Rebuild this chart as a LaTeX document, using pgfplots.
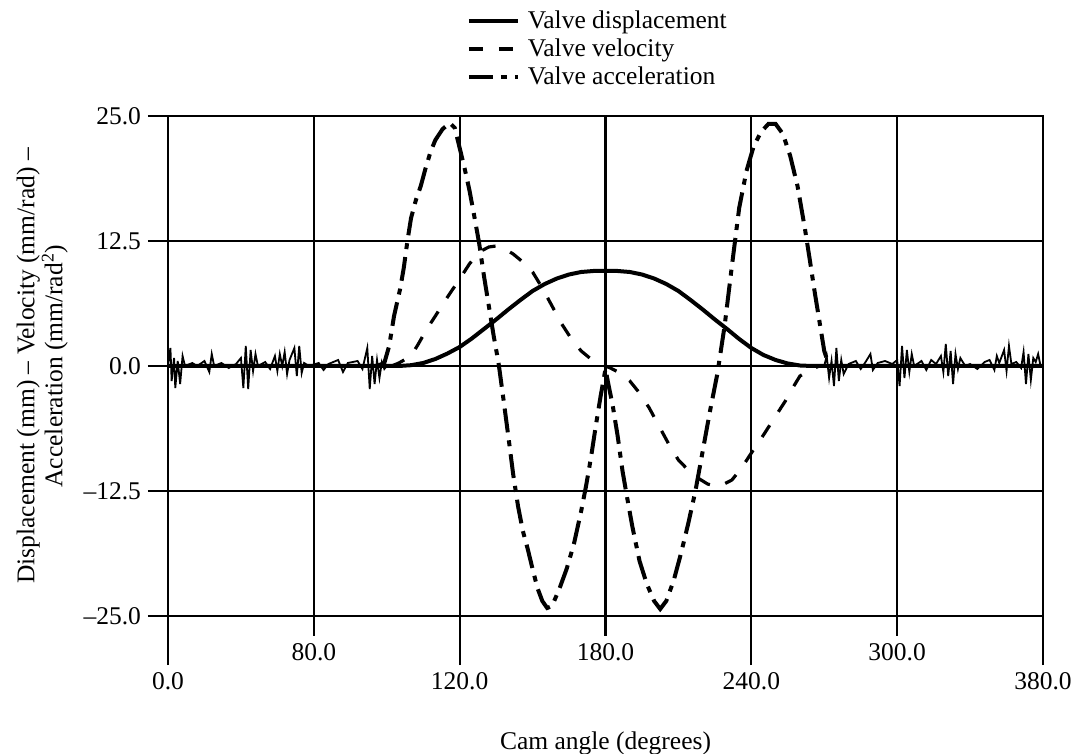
\documentclass[border=0pt]{standalone}
\usepackage{fontspec}
\setmainfont{Liberation Serif}
\usepackage{pgfplots}
\pgfplotsset{compat=1.18}
\begin{document}
\begin{tikzpicture}[font=\fontsize{12.75pt}{14pt}\selectfont]
\begin{axis}[
  scale only axis, width=437.5pt, height=250pt,
  xmin=0, xmax=360, ymin=-25, ymax=25,
  axis line style={line width=1.3pt},
  grid=major, grid style={black, line width=1.3pt},
  tick style={black, line width=1.3pt},
  major tick length=10pt,
  tick align=outside,
  xtick pos=bottom, ytick pos=left,
  xtick={60,180,300}, xticklabels={80.0,180.0,300.0},
  extra x ticks={0,120,240,360}, extra x tick labels={0.0,120.0,240.0,380.0},
  extra x tick style={grid=major, major tick length=24.5pt,
    major grid style={black, line width=1.05pt}, major tick style={line width=1.05pt}},
  ytick={-25,-12.5,0,12.5,25}, yticklabels={–25.0,–12.5,0.0,12.5,25.0},
  xlabel={Cam angle (degrees)},
  xlabel style={yshift=5.5pt},
  ylabel={Displacement (mm) – Velocity (mm/rad) –\\Acceleration (mm/rad\textsuperscript{2})},
  ylabel style={align=center, yshift=1pt},
  legend style={draw=none, fill=none, at={(axis description cs:0.341,1)}, anchor=south west,
    yshift=12.5pt, row sep=0.8pt, inner sep=0pt, nodes={inner sep=1.5pt}},
  legend cell align=left,
  legend image code/.code={\draw[mark repeat=2,mark phase=2] plot coordinates {(0pt,0pt) (12pt,0pt) (24.5pt,0pt)};},
]
% Valve displacement
\addplot[black, line width=2pt] coordinates {
(0,0) (95,0) (100,0.08) (105,0.3) (110,0.7) (115,1.25) (120,1.9) (125,2.75) (130,3.7)
(135,4.65) (140,5.65) (145,6.6) (150,7.5) (155,8.2) (160,8.75) (165,9.15) (170,9.4)
(175,9.5) (180,9.5) (185,9.5) (190,9.4) (195,9.15) (200,8.75) (205,8.2) (210,7.5)
(215,6.6) (220,5.65) (225,4.65) (230,3.7) (235,2.7) (240,1.8) (245,1.1) (250,0.6)
(255,0.25) (260,0.05) (265,0) (360,0)};
\addlegendentry{\hspace{2.5pt}Valve displacement}
% Valve velocity
\addplot[black, line width=1.6pt, dash pattern=on 7pt off 8pt] coordinates {
(92,0) (95,0.3) (100,1.0) (103,2.2) (106,3.5) (110,5.0) (115,6.9) (120,8.7) (124,10.2)
(128,11.4) (132,11.9) (135,12.0) (138,11.8) (142,11.2) (146,10.4) (150,9.4) (154,7.8)
(158,6.0) (162,4.2) (166,2.7) (170,1.5) (174,0.7) (178,0.2) (180,0) (182,-0.2) (186,-0.7)
(190,-1.5) (194,-2.7) (198,-4.2) (202,-6.0) (206,-7.8) (210,-9.4) (214,-10.4) (218,-11.2)
(222,-11.8) (225,-12.0) (228,-11.9) (232,-11.4) (236,-10.2) (240,-8.7) (245,-6.9)
(250,-5.0) (254,-3.5) (257,-2.2) (260,-1.0) (265,-0.3) (268,0)};
\addlegendentry{\hspace{2.5pt}Valve velocity}
% Valve acceleration
\addplot[black, line width=2pt, dash pattern=on 12pt off 4pt on 3pt off 4pt] coordinates {
(86,0) (89,0.3) (91,2) (93,5) (95.5,7.7) (97,9.8) (98.5,12.5) (100,14.8) (102,16.6)
(104,18) (106,19.8) (108,21.4) (110,22.6) (113,23.7) (116,24.3) (118,23.8) (120,21.8)
(122,19.8) (124,17.6) (126,15) (128,12.3) (130,9) (132,6) (134,3) (136,0.3) (138,-3.3)
(140,-7) (142,-10.8) (144,-14) (146,-16.5) (148,-18.3) (150,-20.3) (152,-22.2) (154,-23.5)
(156,-24.2) (158,-24) (161,-22.3) (164,-20.3) (167,-17.8) (170,-14.5) (172,-12) (174,-9.2)
(176,-6) (178,-3) (180,-0.3) (181,-1.6) (183,-4) (185,-7) (187,-10.5) (189,-13.3)
(191,-16) (194,-19.5) (197,-21.8) (200,-23.5) (202.5,-24.3) (205,-23.5) (208,-21.5)
(211,-18.8) (214,-15.8) (217,-12.5) (220,-8.5) (223,-4.5) (226,-0.8) (229,4) (232,10)
(235,15.8) (238,19.5) (241,22) (244,23.4) (247,24.2) (250,24.2) (253,23.2) (256,21)
(259,18) (262,13.8) (264,10.7) (266,7.5) (268,4.5) (270,1.5) (272,0)};
\addlegendentry{\hspace{2.5pt}Valve acceleration}
% measurement noise about zero
\addplot[black, line width=0.9pt, forget plot] coordinates {
(0,0) (1,1.8) (1.5,-1.5) (2.5,0.8) (3,-2.2) (4,0.5) (5,-1.8) (6,1.0) (7,0) (10,0.3) (12,0)
(15,0.5) (17,-0.6) (18,1.2) (19,0) (22,0.3) (25,-0.2) (28,0.2) (30,0.8) (31,-2.2) (32,2.0)
(33,-2.3) (34,1.6) (35,-0.5) (36,1.2) (37,0) (40,0.4) (42,-0.3) (44,1.0) (45,-0.5) (46,1.2)
(47,0) (48,1.4) (49,-0.8) (50,0.6) (52,1.8) (53,-1.0) (54,2.0) (55,-0.7) (56,0.3) (58,0)
(62,0.3) (64,-0.4) (66,0.2) (70,0.6) (72,-0.6) (74,0.3) (78,0.5) (80,-0.3) (82,1.8)
(83,-2.3) (84,1.0) (85,-1.8) (86,0.6) (87,-1.2) (88,0.4) (89,-0.3) (90,0)};
\addplot[black, line width=0.9pt, forget plot] coordinates {
(270,0) (271,1.0) (272,-1.2) (273,0.5) (274,-2.0) (275,1.8) (276,-1.5) (277,0.6) (278,-0.8)
(280,0.2) (283,0.5) (285,-0.3) (287,0.4) (289,1.2) (290,-0.4) (292,0.3) (295,0.5) (298,0.2)
(300,0.6) (301,-2.0) (302,2.0) (303,-1.2) (304,1.6) (305,-0.6) (306,1.2) (307,0) (310,0.5)
(312,-0.4) (314,0.6) (316,0.2) (318,1.0) (319,-0.6) (320,2.2) (321,-1.0) (322,1.5)
(323,-1.8) (324,1.2) (325,-0.3) (326,0.8) (328,0) (330,0.2) (333,-0.3) (336,0.4) (338,0.6)
(340,-0.4) (341,1.0) (342,0.3) (344,1.6) (345,-0.5) (346,2.0) (347,0.2) (349,0.4)
(351,-0.2) (352,1.4) (353,-1.8) (354,1.2) (355,-1.4) (356,0.8) (357,0.4) (358,1.2)
(359,0) (360,0)};
\end{axis}
\pgfresetboundingbox
\path[use as bounding box] ([xshift=-84pt,yshift=-69pt]current axis.south west) rectangle ++(537.5pt,377pt);
\end{tikzpicture}
\end{document}
